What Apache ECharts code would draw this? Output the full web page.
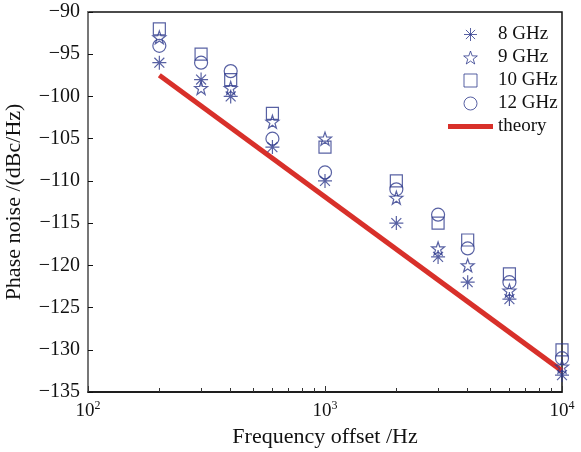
<!DOCTYPE html>
<html>
<head>
<meta charset="utf-8">
<title>Phase noise</title>
<script src="https://cdn.jsdelivr.net/npm/echarts@6/dist/echarts.min.js"></script>
</head>
<body style="margin:0">
<div id="main" style="width:581px;height:452px;"></div>
<script type="text/javascript">
// offset frequencies (Hz)
var freqs = [200, 300, 400, 600, 1000, 2000, 3000, 4000, 6000, 10000];
// phase noise (dBc/Hz) per carrier
var pn8 = [-96, -98, -100, -106, -110, -115, -119, -122, -124, -133];
var pn9 = [-93, -99, -99, -103, -105, -112, -118, -120, -123, -132];
var pn10 = [-92, -95, -98, -102, -106, -110, -115, -117, -121, -130];
var pn12 = [-94, -96, -97, -105, -109, -111, -114, -118, -122, -131];
// theory line
var theoryFreqs = [200, 10000];
var theoryVals = [-97.5, -132.5];
// minor ticks on the frequency axis
var minorTicks = [200, 300, 400, 500, 600, 700, 800, 900, 2000, 3000, 4000, 5000, 6000, 7000, 8000, 9000];

var blue = '#2e3a8c';
var red = '#d8302a';
var font = '"Liberation Serif", "DejaVu Serif", serif';

var asterisk = 'path://M0,-10L0,10M-10,0L10,0M-7.07,-7.07L7.07,7.07M-7.07,7.07L7.07,-7.07';
var star = 'path://M0,-10L2.35,-3.24L9.51,-3.09L3.8,1.24L5.88,8.09L0,4L-5.88,8.09L-3.8,1.24L-9.51,-3.09L-2.35,-3.24Z';
var square = 'path://M0,0L10,0L10,10L0,10Z';
var bar = 'path://M0,0L45,0L45,5L0,5Z';

var pairs = function(xs, ys) {
    var out = [];
    for (var i = 0; i < xs.length; i++) {
        out.push([xs[i], ys[i]]);
    }
    return out;
};

var scatter = function(name, ys, symbol, size) {
    return {
        name: name,
        type: 'scatter',
        data: pairs(freqs, ys),
        symbol: symbol,
        symbolSize: size,
        itemStyle: {color: 'rgba(255,255,255,0)', borderColor: blue, borderWidth: 1.2}
    };
};

var legendItem = function(name, icon) {
    return {name: name, icon: icon, itemStyle: {borderWidth: 1}};
};

var myChart = echarts.init(document.getElementById('main'));
var option = {
    animation: false,
    textStyle: {fontFamily: font},
    grid: {
        left: 88, right: 19, top: 12, bottom: 60,
        outerBoundsMode: 'none',
        show: true, borderColor: '#111', borderWidth: 1.5
    },
    legend: {
        orient: 'vertical',
        left: 443,
        top: 20,
        itemWidth: 45,
        itemHeight: 13,
        itemGap: 4,
        textStyle: {fontFamily: font, fontSize: 19, color: '#111'},
        data: [
            legendItem('8 GHz', asterisk),
            legendItem('9 GHz', star),
            legendItem('10 GHz', square),
            legendItem('12 GHz', 'circle'),
            {name: 'theory', icon: bar, itemStyle: {color: red, borderWidth: 0}}
        ]
    },
    xAxis: [{
        type: 'log',
        logBase: 10,
        min: 100,
        max: 10000,
        name: 'Frequency offset /Hz',
        nameLocation: 'middle',
        nameGap: 33,
        nameTextStyle: {fontFamily: font, fontSize: 22, color: '#111'},
        axisLine: {lineStyle: {color: '#111', width: 1.5}},
        axisTick: {inside: true, length: 6, lineStyle: {color: '#333'}},
        splitLine: {show: false},
        axisLabel: {
            margin: 8,
            color: '#111',
            formatter: function(v) {
                return '{b|10}{s|' + Math.round(Math.log10(v)) + '}';
            },
            rich: {
                b: {fontFamily: font, fontSize: 19, color: '#111', verticalAlign: 'bottom', lineHeight: 21},
                s: {fontFamily: font, fontSize: 12, color: '#111', verticalAlign: 'top', lineHeight: 21}
            }
        }
    }, {
        // minor ticks only
        type: 'value',
        position: 'bottom',
        min: 2,
        max: 4,
        axisLine: {show: false},
        axisLabel: {show: false},
        splitLine: {show: false},
        axisTick: {
            inside: true,
            length: 4,
            lineStyle: {color: '#333'},
            customValues: minorTicks.map(function(f) { return Math.log10(f); })
        }
    }],
    yAxis: {
        type: 'value',
        min: -135,
        max: -90,
        interval: 5,
        name: 'Phase noise /(dBc/Hz)',
        nameLocation: 'middle',
        nameGap: 63,
        nameTextStyle: {fontFamily: font, fontSize: 22, color: '#111'},
        axisLine: {lineStyle: {color: '#777', width: 2}},
        axisTick: {inside: true, length: 5, lineStyle: {color: '#111'}},
        splitLine: {show: false},
        axisLabel: {
            margin: 8,
            fontFamily: font,
            fontSize: 20,
            color: '#111',
            formatter: function(v) {
                return String(v).replace('-', '\u2212');
            }
        }
    },
    series: [{
        name: 'theory',
        type: 'line',
        data: pairs(theoryFreqs, theoryVals),
        symbol: 'none',
        lineStyle: {color: red, width: 5},
        itemStyle: {color: red},
        z: 1
    },
        scatter('8 GHz', pn8, asterisk, 14),
        scatter('9 GHz', pn9, star, 13),
        scatter('10 GHz', pn10, square, 12),
        scatter('12 GHz', pn12, 'circle', 13)
    ]
};
myChart.setOption(option);
</script>
</body>
</html>
